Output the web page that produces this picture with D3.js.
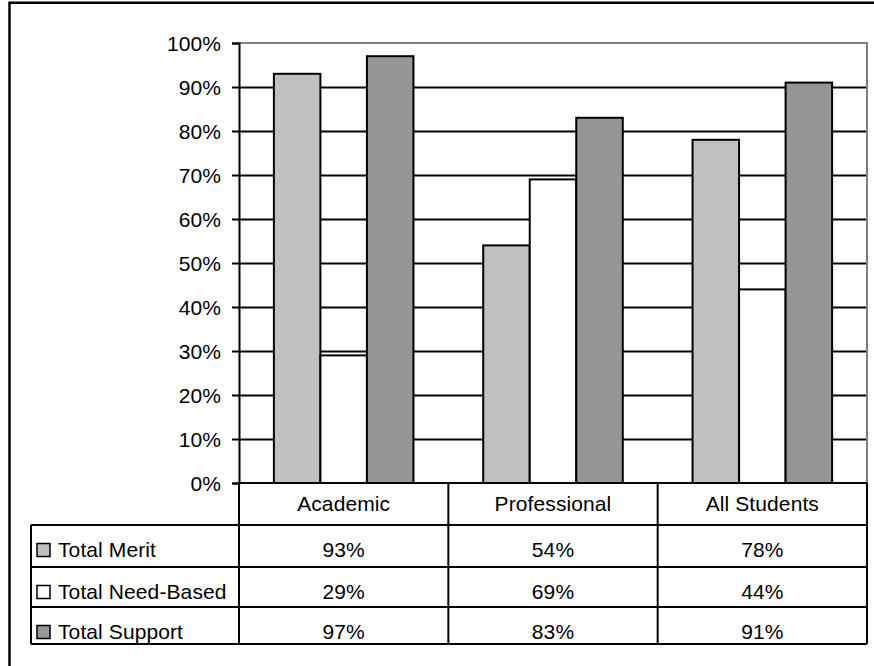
<!DOCTYPE html>
<html>
<head>
<meta charset="utf-8">
<script src="https://cdn.jsdelivr.net/npm/d3@7"></script>
<style>
  html, body { margin: 0; padding: 0; background: #fff; overflow: hidden; }
  svg { display: block; }
  svg text { font-family: "Liberation Sans", Arial, sans-serif; font-size: 21px; letter-spacing: 0.1px; fill: #000; }
</style>
</head>
<body>
<svg id="chart" width="874" height="666"></svg>
<script>
// data
var categories = ["Academic", "Professional", "All Students"];
var series = ["Total Merit", "Total Need-Based", "Total Support"];
var merit = [0.93, 0.54, 0.78];
var needBased = [0.29, 0.69, 0.44];
var support = [0.97, 0.83, 0.91];
var yTicks = [0, 0.1, 0.2, 0.3, 0.4, 0.5, 0.6, 0.7, 0.8, 0.9, 1.0];

var colors = ["#c0c0c0", "#ffffff", "#969696"];
var values = [merit, needBased, support];

var svg = d3.select("#chart");

var plot = {left: 239, right: 867, top: 43, bottom: 483};
// table row boundaries (header + 3 series rows)
var rows = [483, 525, 567, 607, 644];
var legendLeft = 31;

// outer frame, only left and top edges are inside the picture
svg.append("path")
    .attr("d", "M9.5,670V2.8H880")
    .attr("fill", "none").attr("stroke", "#000").attr("stroke-width", 2.5);

var x0 = d3.scaleBand().domain(categories).range([plot.left, plot.right]).padding(0);
var x1 = d3.scaleBand().domain(series).range([0, x0.bandwidth()]).paddingInner(0).paddingOuter(0.75);
var y = d3.scaleLinear().domain([0, 1]).range([plot.bottom, plot.top]);

// gridlines
var grid = svg.append("g")
    .attr("transform", "translate(" + plot.left + ",0)")
    .call(d3.axisLeft(y).tickValues(yTicks.slice(1, -1)).tickSize(-(plot.right - plot.left)).tickFormat(""));
grid.select(".domain").remove();
grid.selectAll("line").attr("stroke", "#000").attr("stroke-width", 2);

// bars
var data = [];
categories.forEach(function(c, i) {
  series.forEach(function(s, j) {
    data.push({cat: c, ser: s, v: values[j][i], color: colors[j]});
  });
});

svg.append("g").selectAll("rect")
    .data(data).enter()
    .append("rect")
    .attr("x", function(d) { return x0(d.cat) + x1(d.ser); })
    .attr("y", function(d) { return y(d.v); })
    .attr("width", x1.bandwidth())
    .attr("height", function(d) { return y(0) - y(d.v); })
    .attr("fill", function(d) { return d.color; })
    .attr("stroke", "#000")
    .attr("stroke-width", 2);

// plot area border (top + right, gray)
svg.append("path")
    .attr("d", "M" + plot.left + "," + plot.top + "H" + plot.right + "V" + plot.bottom)
    .attr("fill", "none").attr("stroke", "#808080").attr("stroke-width", 2);

// y axis
var yAxis = svg.append("g")
    .attr("transform", "translate(" + plot.left + ",0)")
    .call(d3.axisLeft(y).tickValues(yTicks).tickSize(7).tickPadding(11).tickFormat(d3.format(".0%")));
yAxis.attr("font-size", null).attr("font-family", null);
yAxis.select(".domain").attr("stroke", "#000").attr("stroke-width", 2);
yAxis.selectAll("line").attr("stroke", "#000").attr("stroke-width", 2);
yAxis.selectAll("text").attr("dy", "0.35em");

// data table
var table = svg.append("g").attr("stroke", "#000").attr("stroke-width", 2).attr("fill", "none");
// horizontal lines
table.append("line").attr("x1", plot.left).attr("x2", plot.right).attr("y1", rows[0]).attr("y2", rows[0]);
rows.slice(1).forEach(function(r) {
  table.append("line").attr("x1", legendLeft).attr("x2", plot.right).attr("y1", r).attr("y2", r);
});
// vertical lines
table.append("line").attr("x1", legendLeft).attr("x2", legendLeft).attr("y1", rows[1]).attr("y2", rows[4]);
table.append("line").attr("x1", plot.left).attr("x2", plot.left).attr("y1", rows[0]).attr("y2", rows[4]);
categories.forEach(function(c) {
  var xr = x0(c) + x0.bandwidth();
  table.append("line").attr("x1", xr).attr("x2", xr).attr("y1", rows[0]).attr("y2", rows[4]);
});

// header labels
svg.append("g").selectAll("text")
    .data(categories).enter()
    .append("text")
    .attr("x", function(c) { return x0(c) + x0.bandwidth() / 2; })
    .attr("y", rows[0] + 28)
    .attr("text-anchor", "middle")
    .text(function(c) { return c; });

// series rows
series.forEach(function(s, j) {
  var top = rows[j + 1];
  var base = top + 31.5;
  svg.append("rect")
      .attr("x", legendLeft + 6).attr("y", base - 13)
      .attr("width", 13).attr("height", 13)
      .attr("fill", colors[j]).attr("stroke", "#000").attr("stroke-width", 1.5);
  svg.append("text")
      .attr("x", legendLeft + 27).attr("y", base)
      .text(s);
  svg.append("g").selectAll("text")
      .data(values[j]).enter()
      .append("text")
      .attr("x", function(v, i) { return x0(categories[i]) + x0.bandwidth() / 2; })
      .attr("y", base)
      .attr("text-anchor", "middle")
      .text(function(v) { return d3.format(".0%")(v); });
});
</script>
</body>
</html>
